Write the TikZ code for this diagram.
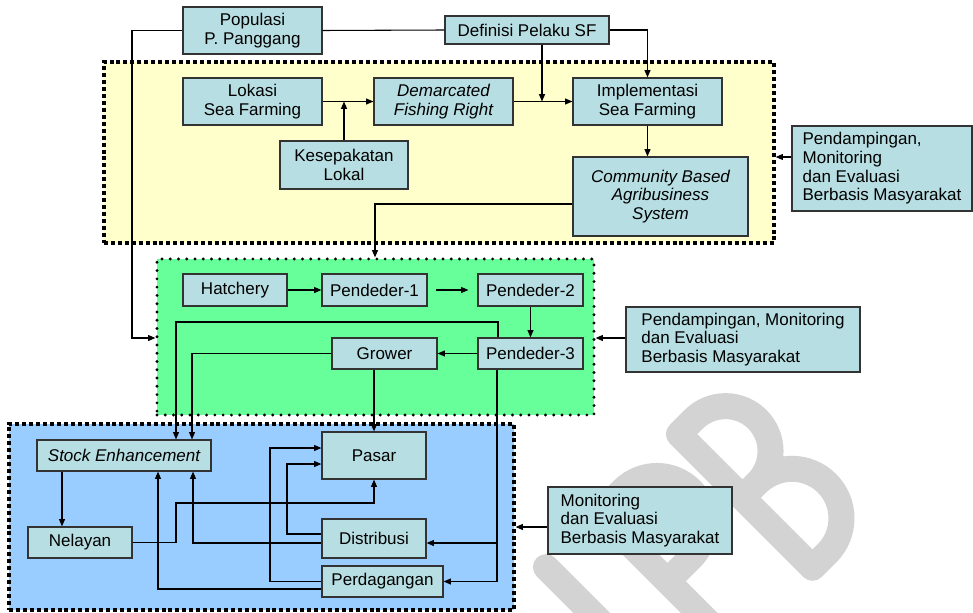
\documentclass[tikz,border=0pt]{standalone}
\usepackage{fontspec}
\setmainfont{Liberation Sans}
\usetikzlibrary{arrows.meta,fit,calc}

\definecolor{boxfill}{RGB}{183,222,226}
\definecolor{zoneyellow}{RGB}{255,255,204}
\definecolor{zonegreen}{RGB}{102,255,153}
\definecolor{zoneblue}{RGB}{153,204,255}
\definecolor{markgray}{RGB}{211,211,211}

\begin{document}
\begin{tikzpicture}[x=0.75pt,y=-0.75pt,
  font=\fontsize{12.75}{14}\selectfont,
  box/.style={draw=black!80, line width=0.9pt, fill=boxfill, inner sep=0pt, align=center},
  notebox/.style={draw=black!80, line width=0.9pt, fill=boxfill, inner sep=0pt, align=left},
  it/.style={font=\fontsize{12.75}{14}\selectfont\itshape},
  zone/.style={draw=black, line width=2.4pt, inner sep=0pt},
  squaredots/.style={dash pattern=on 3pt off 2.2pt},
  rounddots/.style={line cap=round, dash pattern=on 0pt off 6.2pt},
  arr/.style={draw=black, line width=0.8pt, -{Triangle[length=5.5pt,width=4.5pt]}},
  link/.style={draw=black, line width=0.8pt}]

\useasboundingbox (0,0) rectangle (973,613);

% background zones
\node[zone, squaredots, fill=zoneyellow, fit={(104,62) (774,243)}] (yel) {};
\node[zone, rounddots, fill=zonegreen, fit={(157,259) (594,415)}] (grn) {};
\node[zone, squaredots, fill=zoneblue, fit={(9,424) (514,610)}] (blu) {};

% light grey IPB mark, drawn as rounded strokes
\begin{scope}
  \clip (0,0) rectangle (973,613);
  \begin{scope}[shift={(812.5,567.8)}, x={(0.5303pt,0.5303pt)}, y={(-0.5303pt,0.5303pt)},
      color=markgray, line width=19.5pt, line cap=round, line join=round]
    \draw (-188,0) -- (-188,189);
    \draw (-112,0) -- (-112,189) -- (-79,189) arc[start angle=90,end angle=-90,radius=48] -- (-112,93);
    \draw (0,0) -- (0,189) -- (21,189) arc[start angle=90,end angle=-90,radius=45] -- (0,99)
          -- (20.5,99) arc[start angle=90,end angle=-90,radius=49.5] -- (0,0);
  \end{scope}
\end{scope}

% top part
\node[box, minimum width=104.25pt, minimum height=35.25pt] (pop) at (252.5,30.5) {Populasi\\P. Panggang};
\node[box, minimum width=123pt, minimum height=21pt] (def) at (527,30) {Definisi Pelaku SF};
\node[box, minimum width=104.25pt, minimum height=35.25pt] (lok) at (252.5,101.5) {Lokasi\\Sea Farming};
\node[box, it, minimum width=104.25pt, minimum height=35.25pt] (dfr) at (443.5,101.5) {Demarcated\\Fishing Right};
\node[box, minimum width=111.75pt, minimum height=35.25pt] (imp) at (647.5,101.5) {Implementasi\\Sea Farming};
\node[box, minimum width=96pt, minimum height=36pt] (kes) at (344,165) {Kesepakatan\\Lokal};
\node[box, it, minimum width=131.25pt, minimum height=59.25pt] (cbas) at (660.5,196.5) {Community Based\\Agribusiness\\System};
\node[notebox, minimum width=135pt, minimum height=63.75pt] (pdm1) at (882,168.5) {Pendampingan,\\Monitoring\\dan Evaluasi\\Berbasis Masyarakat};

% seed production
\node[box, minimum width=78pt, minimum height=24pt] (hat) at (235,290) {Hatchery};
\node[box, minimum width=78.75pt, minimum height=24pt] (p1) at (374.5,290) {Pendeder-1};
\node[box, minimum width=78.75pt, minimum height=24pt] (p2) at (530.5,290) {Pendeder-2};
\node[box, minimum width=78.75pt, minimum height=23.25pt] (p3) at (530.5,353.5) {Pendeder-3};
\node[box, minimum width=78.75pt, minimum height=23.25pt] (gro) at (384.5,353.5) {Grower};
\node[notebox, minimum width=175.5pt, minimum height=48.75pt] (pdm2) at (743,339.5) {Pendampingan, Monitoring\\dan Evaluasi\\Berbasis Masyarakat};

% market side
\node[box, it, minimum width=130.5pt, minimum height=23.25pt] (se) at (124,455.5) {Stock Enhancement};
\node[box, minimum width=78pt, minimum height=23.25pt] (nel) at (80,542.5) {Nelayan};
\node[box, minimum width=78pt, minimum height=35.25pt] (pas) at (374,455.5) {Pasar};
\node[box, minimum width=78pt, minimum height=29.25pt] (dis) at (374,538.5) {Distribusi};
\node[box, minimum width=90.75pt, minimum height=23.25pt] (per) at (382.5,581.5) {Perdagangan};
\node[notebox, minimum width=138pt, minimum height=50.25pt] (mon) at (640,520.5) {Monitoring\\dan Evaluasi\\Berbasis Masyarakat};

% junction points
\coordinate (popturn) at (132,338);
\coordinate (defdrop) at (542,101.5);
\coordinate (cbasturn) at (375,204);
\coordinate (pdmone) at (784,157);
\coordinate (loopR) at (498,322);
\coordinate (loopL) at (176,322);
\coordinate (growL) at (192,0);
\coordinate (pdrop) at (497,0);
\coordinate (disin) at (470,543);
\coordinate (pdmtwo) at (610,338);
\coordinate (nelx) at (62,0);
\coordinate (nelturn) at (176,503);
\coordinate (disA) at (300,534);
\coordinate (disB) at (300,543);
\coordinate (disturn) at (287,464);
\coordinate (disse) at (193,0);
\coordinate (perturn) at (270,448);
\coordinate (perB) at (300,589);
\coordinate (perse) at (158,0);
\coordinate (monin) at (540,527);

% connectors, top part
\draw[link] (pop.east) -- (def.west);
\draw[arr] (pop.west) -| (popturn) -- (popturn -| grn.west);
\draw[arr] (def.east) -| (imp.north);
\draw[arr] (def.south -| defdrop) -- (defdrop);
\draw[arr] (lok.east) -- (dfr.west);
\draw[arr] (kes.north) -- (kes.north |- lok.east);
\draw[arr] (dfr.east) -- (imp.west);
\draw[arr] (imp.south) -- (imp.south |- cbas.north);
\draw[arr] (cbas.west |- cbasturn) -- (cbasturn) -- (cbasturn |- grn.north);
\draw[arr] (pdm1.west |- pdmone) -- (pdmone -| yel.east);

% connectors, seed production
\draw[arr] (hat.east) -- (p1.west);
\draw[arr] ([xshift=6pt]p1.east) -- ([xshift=-6.75pt]p2.west);
\draw[arr] (p2.south) -- (p3.north);
\draw[arr] (p3.west) -- (gro.east);
\draw[arr] (p3.north -| loopR) -- (loopR) -- (loopL) -- (loopL |- se.north);
\draw[arr] (gro.west) -| (growL |- se.north);
\draw[arr] (pas.north |- gro.south) -- (pas.north);
\draw[arr] (p3.south -| pdrop) |- (per.east);
\draw[arr] (pdrop |- disin) -- (disin -| dis.east);
\draw[arr] (pdm2.west |- pdmtwo) -- (pdmtwo -| grn.east);

% connectors, market side
\draw[arr] (se.south -| nelx) -- (nel.north -| nelx);
\draw[arr] (nel.east) -| (nelturn) -| (pas.south);
\draw[arr] (disA -| dis.west) -| (disturn) -- (disturn -| pas.west);
\draw[arr] (disB -| dis.west) -| (disse |- se.south);
\draw[arr] (per.west) -| (perturn) -- (perturn -| pas.west);
\draw[arr] (perB -| per.west) -| (perse |- se.south);
\draw[arr] (mon.west |- monin) -- (monin -| blu.east);

\end{tikzpicture}
\end{document}
